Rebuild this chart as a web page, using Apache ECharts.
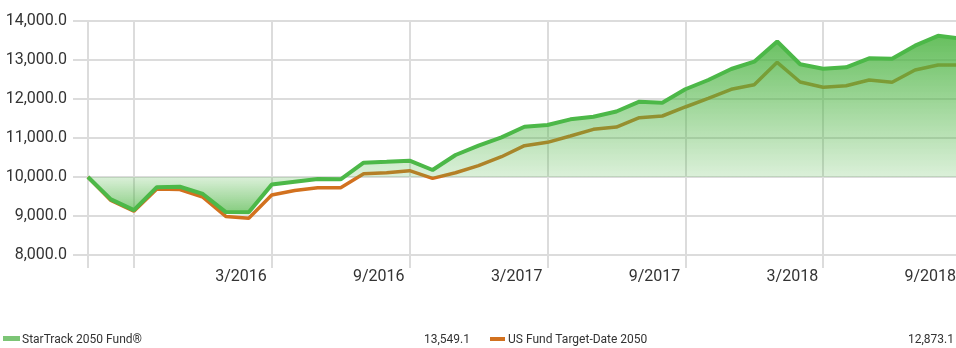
<!DOCTYPE html>
<html>
<head>
<meta charset="utf-8">
<script src="https://cdn.jsdelivr.net/npm/echarts@6/dist/echarts.min.js"></script>
<style>
  html, body { margin: 0; padding: 0; background: #fff; }
  #chart { width: 956px; height: 348px; }
</style>
</head>
<body>
<div id="chart"></div>
<script>
// Month-end dates of the growth-of-10,000 series
const months = [
  '7/2015', '8/2015', '9/2015', '10/2015', '11/2015', '12/2015',
  '1/2016', '2/2016', '3/2016', '4/2016', '5/2016', '6/2016',
  '7/2016', '8/2016', '9/2016', '10/2016', '11/2016', '12/2016',
  '1/2017', '2/2017', '3/2017', '4/2017', '5/2017', '6/2017',
  '7/2017', '8/2017', '9/2017', '10/2017', '11/2017', '12/2017',
  '1/2018', '2/2018', '3/2018', '4/2018', '5/2018', '6/2018',
  '7/2018', '8/2018', '9/2018'
];

// Growth of 10,000 — fund
const fundValues = [
  10000, 9425, 9150, 9740, 9750, 9565,
  9100, 9095, 9805, 9880, 9950, 9940,
  10367, 10390, 10418, 10180, 10564, 10803,
  11017, 11290, 11333, 11479, 11546, 11680,
  11931, 11905, 12250, 12487, 12769, 12956,
  13475, 12890, 12777, 12812, 13043, 13033,
  13367, 13620, 13549.1
];

// Growth of 10,000 — category average
const categoryValues = [
  10000, 9400, 9125, 9690, 9680, 9485,
  8990, 8940, 9538, 9655, 9726, 9726,
  10085, 10110, 10162, 9966, 10110, 10290,
  10520, 10803, 10889, 11051, 11222, 11280,
  11521, 11564, 11795, 12018, 12248, 12367,
  12941, 12436, 12300, 12341, 12487, 12428,
  12744, 12872, 12873.1
];

const seriesNames = ['StarTrack 2050 Fund\u00AE', 'US Fund Target-Date 2050'];

// Vertical gridlines and the dates that carry a label
const gridMonths = ['7/2015', '9/2015', '3/2016', '9/2016', '3/2017', '9/2017', '3/2018', '9/2018'];
const tickLabels = ['3/2016', '9/2016', '3/2017', '9/2017', '3/2018', '9/2018'];

// Value axis ticks
const yMin = 8000, yMax = 14000, yStep = 1000;
const baseline = 10000;

const FONT = 'Roboto, "Liberation Sans", sans-serif';
const GREEN = '#4cb848';
const ORANGE = '#d2711f';
const GRID = '#dcdcdc';
const TEXT = '#333333';

const fmt1 = v => v.toLocaleString('en-US', { minimumFractionDigits: 1, maximumFractionDigits: 1 });

const toPairs = arr => arr.map((v, i) => [i, v]);
const gridIdx = gridMonths.map(m => months.indexOf(m));
const labelIdx = tickLabels.map(m => months.indexOf(m));

// Area shading: strongest far from the 10,000 baseline, palest at it
const fMax = Math.max(...fundValues), fMin = Math.min(...fundValues);
const baseOff = (fMax - baseline) / (fMax - fMin);

const chart = echarts.init(document.getElementById('chart'), null, { renderer: 'canvas' });

chart.setOption({
  animation: false,
  textStyle: { fontFamily: FONT },
  grid: { left: 73, right: -5, top: 21, bottom: 93, containLabel: false, outerBoundsMode: 'none' },
  xAxis: {
    type: 'value',
    min: -0.65,
    max: months.length - 1,
    axisLine: { show: false },
    axisTick: {
      show: true,
      customValues: gridIdx,
      length: 13,
      lineStyle: { color: GRID, width: 2 }
    },
    splitLine: { show: true, lineStyle: { color: GRID, width: 2 } },
    axisLabel: {
      customValues: labelIdx,
      formatter: v => months[Math.round(v)],
      align: 'right',
      padding: [0, 5, 0, 0],
      margin: 14,
      fontSize: 16,
      color: TEXT,
      fontFamily: FONT
    }
  },
  yAxis: {
    type: 'value',
    min: yMin,
    max: yMax,
    interval: yStep,
    axisLine: { show: false },
    axisTick: { show: false },
    splitLine: { show: true, lineStyle: { color: GRID, width: 2 } },
    axisLabel: {
      formatter: v => fmt1(v),
      margin: 6,
      fontSize: 16,
      color: TEXT,
      fontFamily: FONT
    }
  },
  series: [
    {
      name: seriesNames[1],
      type: 'line',
      z: 1,
      data: toPairs(categoryValues),
      symbol: 'none',
      lineStyle: { color: ORANGE, width: 3.5 },
      itemStyle: { color: ORANGE }
    },
    {
      name: seriesNames[0],
      type: 'line',
      z: 3,
      data: toPairs(fundValues),
      symbol: 'none',
      lineStyle: { color: GREEN, width: 4 },
      itemStyle: { color: GREEN },
      areaStyle: {
        origin: baseline,
        opacity: 1,
        color: new echarts.graphic.LinearGradient(0, 0, 0, 1, [
          { offset: 0, color: 'rgba(76,180,66,0.85)' },
          { offset: baseOff, color: 'rgba(76,180,66,0.2)' },
          { offset: 1, color: 'rgba(76,180,66,0.68)' }
        ])
      }
    }
  ],
  graphic: [
    { type: 'rect', left: 3, top: 336, shape: { width: 17, height: 5 }, style: { fill: '#7cc576' } },
    { type: 'text', left: 22, top: 334, style: { text: seriesNames[0], font: '12px ' + FONT, fill: TEXT } },
    { type: 'text', right: 486, top: 334, style: { text: fmt1(fundValues[fundValues.length - 1]), font: '12px ' + FONT, fill: TEXT } },
    { type: 'rect', left: 490, top: 337, shape: { width: 15, height: 4 }, style: { fill: ORANGE } },
    { type: 'text', left: 508, top: 334, style: { text: seriesNames[1], font: '12px ' + FONT, fill: TEXT } },
    { type: 'text', right: 2, top: 334, style: { text: fmt1(categoryValues[categoryValues.length - 1]), font: '12px ' + FONT, fill: TEXT } }
  ]
});
</script>
</body>
</html>
